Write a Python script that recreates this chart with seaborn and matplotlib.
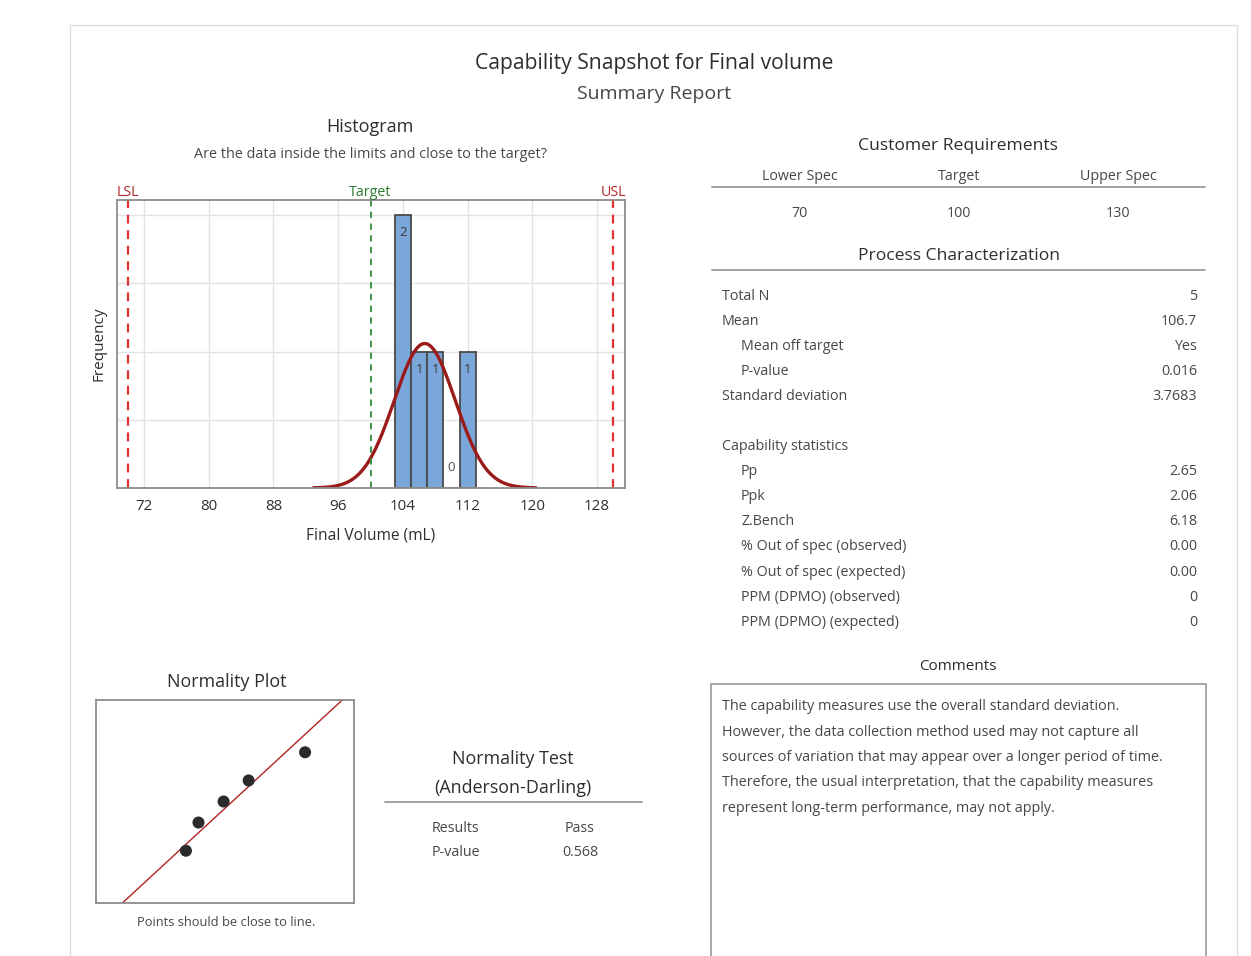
import numpy as np
import pandas as pd
import matplotlib
matplotlib.use("Agg")
import matplotlib.pyplot as plt
import seaborn as sns
from matplotlib.lines import Line2D
from matplotlib.patches import Rectangle
from statistics import NormalDist

# ---------------- data ----------------
final_volume = [103.0, 104.0, 106.0, 108.0, 112.5]
bin_edges = [103, 105, 107, 109, 111, 113]
lsl, target, usl = 70, 100, 130
x_ticks = [72, 80, 88, 96, 104, 112, 120, 128]

spec_headers = ["Lower Spec", "Target", "Upper Spec"]
spec_values = ["70", "100", "130"]

proc_labels = ["Total N", "Mean", "Mean off target", "P-value", "Standard deviation",
               "", "Capability statistics", "Pp", "Ppk", "Z.Bench",
               "% Out of spec (observed)", "% Out of spec (expected)",
               "PPM (DPMO) (observed)", "PPM (DPMO) (expected)"]
proc_indent = [0, 0, 1, 1, 0, 0, 0, 1, 1, 1, 1, 1, 1, 1]
proc_values = ["5", "106.7", "Yes", "0.016", "3.7683", "", "", "2.65", "2.06", "6.18",
               "0.00", "0.00", "0", "0"]

norm_test_labels = ["Results", "P-value"]
norm_test_values = ["Pass", "0.568"]

comments = ["The capability measures use the overall standard deviation.",
            "However, the data collection method used may not capture all",
            "sources of variation that may appear over a longer period of time.",
            "Therefore, the usual interpretation, that the capability measures",
            "represent long-term performance, may not apply."]

# ---------------- setup ----------------
sns.set_theme(style="white")
plt.rcParams['font.family'] = ['Open Sans', 'DejaVu Sans']
W, H = 1251, 956
fig = plt.figure(figsize=(W / 100, H / 100), dpi=100)
fig.patch.set_facecolor("white")

DARK = "#2e2e2e"
MID = "#474747"
FRAME = "#8c8c8c"
TBL = 10.3


def rect(x0, y0, x1, y1):
    return [x0 / W, 1 - y1 / H, (x1 - x0) / W, (y1 - y0) / H]


def ftext(x, y, s, size=TBL, color=MID, ha="center", va="center", **kw):
    fig.text(x / W, 1 - y / H, s, fontsize=size, color=color, ha=ha, va=va, **kw)


def hline(x0, x1, y, color="#9a9a9a", lw=1.3):
    fig.add_artist(Line2D([x0 / W, x1 / W], [1 - y / H, 1 - y / H],
                          transform=fig.transFigure, color=color, lw=lw))


# outer frame
fig.add_artist(Rectangle((70 / W, -0.01), (1237 - 70) / W, 1 - 25 / H + 0.01,
                         transform=fig.transFigure, fill=False,
                         edgecolor="#dcdcdc", lw=1.0))

# titles
ftext(654, 64, "Capability Snapshot for Final volume", size=15.2, color=DARK)
ftext(654, 94, "Summary Report", size=14, color=MID)

# ---------------- histogram ----------------
data = pd.DataFrame({"Final Volume (mL)": final_volume})
mean = float(np.mean(final_volume))
sd = float(np.std(final_volume, ddof=1))
n = len(final_volume)
bw = bin_edges[1] - bin_edges[0]

ax = fig.add_axes(rect(117, 200, 625, 488))
ax.set_xlim(68.66, 131.45)
ax.set_ylim(0, 2.11)
ax.set_xticks(x_ticks)
ax.set_yticks([0.5, 1.0, 1.5, 2.0])
ax.grid(True, color="#e3e3e3", lw=1.0)
ax.set_axisbelow(True)
sns.histplot(data=data, x="Final Volume (mL)", bins=bin_edges, ax=ax,
             color="#7aa6d9", edgecolor="#4a4a4a", linewidth=1.3, alpha=1.0)
for p in ax.patches:
    h = p.get_height()
    cx = p.get_x() + p.get_width() / 2
    if h > 0:
        ax.text(cx, h - 0.13, f"{int(h)}", ha="center", va="center",
                fontsize=9.5, color="#3a3a3a")
    else:
        ax.text(cx, 0.15, "0", ha="center", va="center", fontsize=9.5, color="#4a4a4a")

xs = np.linspace(mean - 3.65 * sd, mean + 3.65 * sd, 300)
ys = n * bw * np.exp(-0.5 * ((xs - mean) / sd) ** 2) / (sd * np.sqrt(2 * np.pi))
sns.lineplot(x=xs, y=ys, ax=ax, color="#9b1b1b", lw=2.4)

ax.axvline(lsl, color="#e03030", ls=(0, (4, 3)), lw=1.6)
ax.axvline(usl, color="#e03030", ls=(0, (4, 3)), lw=1.6)
ax.axvline(target, color="#2e8b3a", ls=(0, (3.5, 3)), lw=1.3)
for v, lab, col in [(lsl, "LSL", "#b22a2a"), (target, "Target", "#2a7a30"),
                    (usl, "USL", "#b22a2a")]:
    ax.text(v, 1.0, lab, transform=ax.get_xaxis_transform(), ha="center",
            va="bottom", fontsize=10.3, color=col)

ax.set_yticklabels([])
ax.tick_params(axis="y", length=0)
ax.tick_params(axis="x", length=3, color=FRAME, labelsize=10.9, labelcolor=DARK, pad=5)
ax.set_xlabel("Final Volume (mL)", fontsize=11.2, color=DARK, labelpad=10)
ax.set_ylabel("Frequency", fontsize=11, color=DARK, labelpad=4)
for s in ax.spines.values():
    s.set_color(FRAME)
    s.set_linewidth(1.3)

ftext(370, 127, "Histogram", size=13, color=DARK)
ftext(370, 154, "Are the data inside the limits and close to the target?", size=10.4, color=MID)

# ---------------- normality plot ----------------
sorted_vals = sorted(final_volume)
zs = [NormalDist().inv_cdf((i + 1 - 0.3) / (n + 0.4)) for i in range(n)]
axn = fig.add_axes(rect(96, 700, 354, 903))
axn.set_xlim(95.83, 116.4)
axn.set_ylim(-2.326, 2.326)
zl = np.array([-2.6, 2.6])
sns.lineplot(x=mean + sd * zl, y=zl, ax=axn, color="#b22222", lw=1.0)
sns.scatterplot(x=sorted_vals, y=zs, ax=axn, color="#2b2b2b", s=75, edgecolor="none", zorder=3)
axn.set_xticks([])
axn.set_yticks([])
for s in axn.spines.values():
    s.set_color(FRAME)
    s.set_linewidth(1.3)
ftext(227, 682, "Normality Plot", size=12.9, color=DARK)
ftext(226, 922, "Points should be close to line.", size=9.3, color=MID)

# ---------------- normality test ----------------
ftext(513, 759, "Normality Test", size=12.9, color=DARK)
ftext(513, 788, "(Anderson-Darling)", size=12.9, color=DARK)
hline(385, 642, 802)
for i, (lab, val) in enumerate(zip(norm_test_labels, norm_test_values)):
    y = 829 + i * 24
    ftext(432, y, lab, ha="left")
    ftext(580, y, val)

# ---------------- customer requirements ----------------
ftext(958, 146, "Customer Requirements", size=12.6, color=DARK)
for x, h, v in zip([800, 959, 1118], spec_headers, spec_values):
    ftext(x, 176, h)
    ftext(x, 213, v)
hline(712, 1205, 187)

ftext(959, 256, "Process Characterization", size=12.6, color=DARK)
hline(712, 1205, 270)
for i, (lab, ind, val) in enumerate(zip(proc_labels, proc_indent, proc_values)):
    y = 296 + i * 25.1
    if lab:
        ftext(722 + 19 * ind, y, lab, ha="left")
    if val:
        ftext(1197, y, val, ha="right")

# ---------------- comments ----------------
ftext(958, 666, "Comments", size=11, color=DARK)
fig.add_artist(Rectangle((711 / W, -0.01), (1206 - 711) / W, 1 - 684 / H + 0.01,
                         transform=fig.transFigure, fill=False,
                         edgecolor="#9a9a9a", lw=1.2))
for i, line in enumerate(comments):
    ftext(722, 707 + i * 25.3, line, size=10.4, ha="left")

fig.savefig("out.png", dpi=100, facecolor="white")
